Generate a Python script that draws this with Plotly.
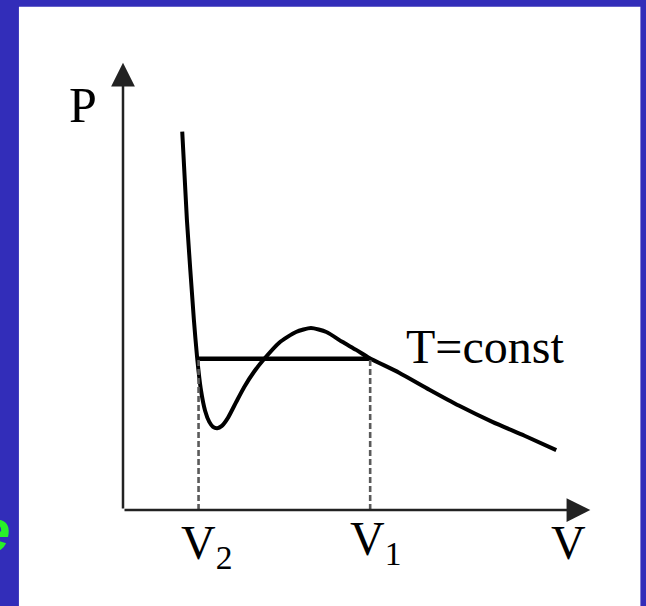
import plotly.graph_objects as go

# Van der Waals isotherm (arbitrary units): molar volume V and pressure P
V = [1.27, 1.37, 1.52, 1.59, 1.67, 1.76, 1.85, 1.93, 2.02, 2.12, 2.25, 2.43,
     2.60, 2.81, 3.03, 3.35, 3.71, 4.03, 4.36, 4.70, 5.00, 5.28, 5.92, 6.57,
     7.21, 7.92, 8.61, 9.29]
P = [8.46, 6.49, 4.25, 3.40, 2.69, 2.22, 1.97, 1.86, 1.83, 1.88, 2.06, 2.42,
     2.75, 3.09, 3.38, 3.74, 3.98, 4.07, 3.98, 3.76, 3.58, 3.40, 3.07, 2.69,
     2.33, 1.97, 1.66, 1.34]

# Maxwell construction: coexistence pressure and the two phase volumes
P_SAT = 3.38
V2, V1 = 1.62, 5.30

AXIS_V_END = 10.02
AXIS_P_END = 10.0

TICK_LABELS = {"V2": "V<sub>2</sub>", "V1": "V<sub>1</sub>"}

# ---- layout geometry (pixels) ----
W, H = 646, 606
L, B = 123, 96
PX_V, PX_P = 46.6, 44.7
X_MAX, Y_MAX = 11.0, 11.0
PW = X_MAX * PX_V
PH = Y_MAX * PX_P
R = W - L - PW
T = H - B - PH


def paper_x(px):
    return (px - L) / PW


def paper_y(py):
    return (H - B - py) / PH


BLUE = "rgb(50,45,185)"
SERIF = "Liberation Serif, Times New Roman, serif"

fig = go.Figure()

# isotherm
fig.add_trace(go.Scatter(
    x=V, y=P, mode="lines", line=dict(color="black", width=4, shape="spline", smoothing=0.6),
    hoverinfo="skip", showlegend=False))

# horizontal tie line at the coexistence pressure
fig.add_trace(go.Scatter(
    x=[V2, V1], y=[P_SAT, P_SAT], mode="lines", line=dict(color="black", width=4.5),
    hoverinfo="skip", showlegend=False))

# dashed drop lines to the volume axis
for v in (V2, V1):
    fig.add_trace(go.Scatter(
        x=[v, v], y=[0, P_SAT], mode="lines",
        line=dict(color="#5a5a5a", width=2.6, dash="6px,3px"),
        hoverinfo="skip", showlegend=False))

annotations = []

# axes drawn as arrows from the origin
annotations.append(dict(x=AXIS_V_END, y=0, ax=0, ay=0, xref="x", yref="y", axref="x", ayref="y",
                        showarrow=True, arrowhead=2, arrowsize=1.9, arrowwidth=2.5,
                        arrowcolor="#222222", text=""))
annotations.append(dict(x=0, y=AXIS_P_END, ax=0, ay=0, xref="x", yref="y", axref="x", ayref="y",
                        showarrow=True, arrowhead=2, arrowsize=1.9, arrowwidth=2.5,
                        arrowcolor="#222222", text=""))

label_font = dict(family=SERIF, size=48, color="black")

annotations.append(dict(x=V2, y=0, xref="x", yref="y", text=TICK_LABELS["V2"], showarrow=False,
                        xanchor="center", yanchor="top", xshift=8, yshift=-4, font=label_font))
annotations.append(dict(x=V1, y=0, xref="x", yref="y", text=TICK_LABELS["V1"], showarrow=False,
                        xanchor="center", yanchor="top", xshift=5, yshift=0, font=label_font))
annotations.append(dict(x=AXIS_V_END, y=0, xref="x", yref="y", text="V", showarrow=False,
                        xanchor="right", yanchor="top", xshift=-2, yshift=-4, font=label_font))
annotations.append(dict(x=0, y=AXIS_P_END, xref="x", yref="y", text="P", showarrow=False,
                        xanchor="right", yanchor="top", xshift=-24, yshift=-12,
                        font=dict(family=SERIF, size=50, color="black")))
annotations.append(dict(x=V1, y=P_SAT, xref="x", yref="y", text="T=const", showarrow=False,
                        xanchor="left", yanchor="bottom", xshift=34, yshift=-16, font=label_font))

# green letter at the left edge of the slide
annotations.append(dict(x=paper_x(12), y=paper_y(530), xref="paper", yref="paper",
                        text="<b><i>e</i></b>", showarrow=False, xanchor="right", yanchor="middle",
                        font=dict(family="Liberation Sans, Arial, sans-serif", size=60,
                                  color="rgb(40,240,40)")))

fig.update_layout(
    width=W, height=H,
    margin=dict(l=L, r=R, t=T, b=B, pad=0, autoexpand=False),
    paper_bgcolor=BLUE,
    plot_bgcolor="rgba(0,0,0,0)",
    xaxis=dict(range=[0, X_MAX], visible=False, fixedrange=True),
    yaxis=dict(range=[0, Y_MAX], visible=False, fixedrange=True),
    showlegend=False,
    annotations=annotations,
    shapes=[dict(type="rect", xref="paper", yref="paper",
                 x0=paper_x(19), x1=paper_x(640), y0=paper_y(606), y1=paper_y(7),
                 fillcolor="white", line=dict(width=0), layer="below")],
)

fig.write_html("out.html")
